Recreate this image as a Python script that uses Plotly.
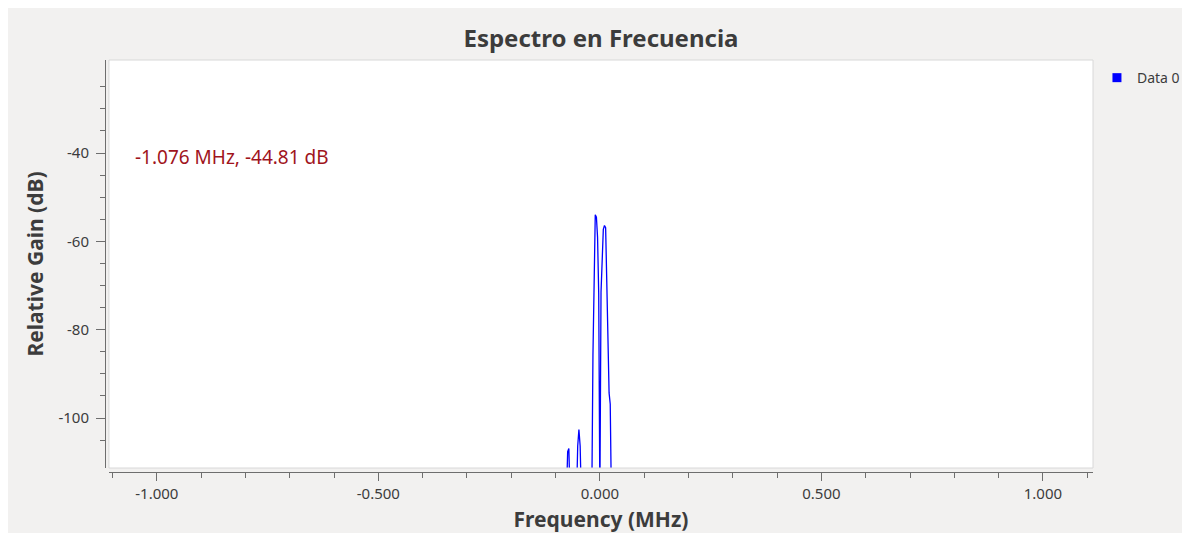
import plotly.graph_objects as go

# --- Spectrum samples read off the screen grab (MHz, dB) ---
# only the bins that rise above the bottom of the view; -118 marks bins under it
freq_mhz = [
    -0.0755, -0.0727, -0.0700, -0.0673,
    -0.0527, -0.0500, -0.0473, -0.0445, -0.0418,
    -0.0182, -0.0156, -0.0130, -0.0104, -0.0078, -0.0052, -0.0026, 0.0000,
    0.0026, 0.0052, 0.0078, 0.0104, 0.0130, 0.0156, 0.0182, 0.0208, 0.0234, 0.0260,
]
gain_db = [
    -118.0, -107.6, -106.9, -118.0,
    -118.0, -106.3, -102.6, -106.3, -118.0,
    -118.0, -85.7, -66.1, -54.0, -54.5, -59.1, -71.9, -118.0,
    -71.5, -61.7, -57.3, -56.4, -56.9, -69.2, -86.6, -94.3, -96.8, -118.0,
]

# cursor readout
cursor_mhz = -1.076
cursor_db = -44.81

# axis ticks
x_major = [-1.0, -0.5, 0.0, 0.5, 1.0]
x_minor = [-1.1, -0.9, -0.8, -0.7, -0.6, -0.4, -0.3, -0.2, -0.1,
           0.1, 0.2, 0.3, 0.4, 0.6, 0.7, 0.8, 0.9, 1.1]
y_major = [-100, -80, -60, -40]
y_minor = [-105, -95, -90, -85, -75, -70, -65, -55, -50, -45, -35, -30, -25]

TXT = "#3c3c3c"
AXC = "#6e6e6e"
FONT = "Noto Sans"

fig = go.Figure()

fig.add_trace(go.Scatter(
    x=freq_mhz, y=gain_db,
    mode="lines",
    line=dict(color="#0000ff", width=1.3),
    showlegend=False,
    hoverinfo="x+y",
))

# legend entry: the Qwt legend shows a filled square
fig.add_trace(go.Scatter(
    x=[None], y=[None],
    mode="markers",
    marker=dict(symbol="square", size=9, color="#0000ff"),
    name="Data 0",
))

fig.add_annotation(
    x=cursor_mhz, y=cursor_db, xref="x", yref="y",
    text=f"{cursor_mhz:.3f} MHz, {cursor_db:.2f} dB",
    showarrow=False, xanchor="left", yanchor="bottom",
    xshift=10, yshift=2,
    font=dict(family=FONT, size=19, color="#a0141c"),
)

# light frame round the canvas
fig.add_shape(type="rect", xref="x domain", yref="y domain",
              x0=0, x1=1, y0=0, y1=1,
              line=dict(color="#d8d8d8", width=1), layer="above")

fig.update_layout(
    width=1190, height=533,
    margin=dict(l=97, r=105, t=52, b=69),
    paper_bgcolor="#f2f1f0",
    plot_bgcolor="#ffffff",
    font=dict(family=FONT, size=15, color=TXT),
    title=dict(
        text="Espectro en Frecuencia",
        x=0.502, xref="paper", y=1 - 31 / 533, yanchor="middle",
        font=dict(family=FONT, size=24, color=TXT, weight="bold"),
    ),
    legend=dict(
        x=1.004, y=0.995, xanchor="left", yanchor="top",
        bgcolor="rgba(0,0,0,0)",
        font=dict(family=FONT, size=14, color=TXT),
        itemwidth=30,
    ),
    xaxis=dict(
        domain=[0.004, 1.0],
        anchor="free", position=0.0,
        range=[-1.108, 1.113],
        tickvals=x_major,
        ticktext=[f"{v:.3f}" for v in x_major],
        ticks="outside", ticklen=8, tickwidth=1, tickcolor=AXC,
        minor=dict(tickvals=x_minor, ticks="outside", ticklen=5,
                   tickwidth=1, tickcolor=AXC),
        showline=True, linecolor=AXC, linewidth=1,
        showgrid=False, zeroline=False,
        tickfont=dict(family=FONT, size=15, color=TXT),
        title=dict(text="<b>Frequency (MHz)</b>", standoff=10,
                   font=dict(family=FONT, size=21, color=TXT)),
    ),
    yaxis=dict(
        domain=[0.0097, 1.0],
        anchor="free", position=0.0,
        range=[-111.3, -18.95],
        tickvals=y_major,
        ticktext=[str(v) for v in y_major],
        ticks="outside", ticklen=9, tickwidth=1, tickcolor=AXC,
        minor=dict(tickvals=y_minor, ticks="outside", ticklen=5,
                   tickwidth=1, tickcolor=AXC),
        showline=True, linecolor=AXC, linewidth=1,
        showgrid=False, zeroline=False,
        ticklabelstandoff=4,
        tickfont=dict(family=FONT, size=15, color=TXT),
        title=dict(text="<b>Relative Gain (dB)</b>", standoff=8,
                   font=dict(family=FONT, size=21, color=TXT)),
    ),
)

fig.write_html("out.html")
